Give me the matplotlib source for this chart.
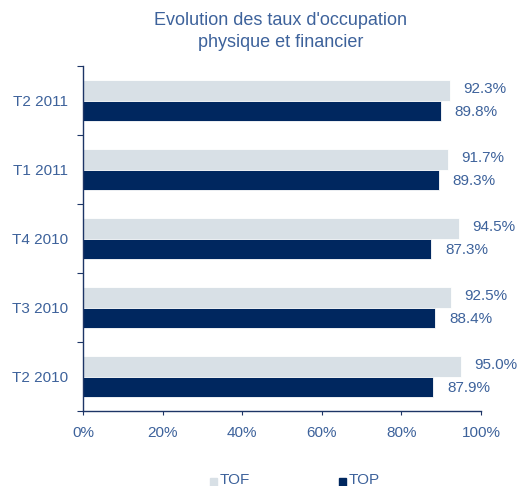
import numpy as np
import matplotlib.pyplot as plt
from matplotlib.ticker import FixedLocator

plt.rcParams['font.family'] = ['Liberation Sans', 'DejaVu Sans']

# data (bottom to top)
periods = ['T2 2010', 'T3 2010', 'T4 2010', 'T1 2011', 'T2 2011']
tof = [95.0, 92.5, 94.5, 91.7, 92.3]
top = [87.9, 88.4, 87.3, 89.3, 89.8]
xticks = [0, 20, 40, 60, 80, 100]

c_tof = '#d8e0e6'
c_top = '#00275f'
c_txt = '#3d629b'
c_axis = '#1d3566'

fig = plt.figure(figsize=(5.19, 4.86), dpi=100)
ax = fig.add_axes([0.160, 0.154, 0.767, 0.710])

y = np.arange(len(periods))
h = 0.30
ax.barh(y + h / 2, tof, height=h, color=c_tof, edgecolor='white', linewidth=0.6)
ax.barh(y - h / 2, top, height=h, color=c_top, edgecolor='white', linewidth=0.6)

for yi, v in zip(y, tof):
    ax.text(v + 3.2, yi + h / 2 + 0.02, f'{v:.1f}%', va='center', ha='left',
            fontsize=11, color=c_txt)
for yi, v in zip(y, top):
    ax.text(v + 3.6, yi - h / 2 - 0.02, f'{v:.1f}%', va='center', ha='left',
            fontsize=11, color=c_txt)

ax.set_xlim(0, 100)
ax.set_ylim(-0.5, len(periods) - 0.5)
ax.set_xticks(xticks)
ax.set_xticklabels([f'{t}%' for t in xticks])
ax.set_yticks(y)
ax.set_yticklabels(periods)
ax.yaxis.set_minor_locator(FixedLocator(np.arange(-0.5, len(periods), 1)))

ax.tick_params(axis='y', which='major', length=0, pad=11, labelsize=11, labelcolor=c_txt)
ax.tick_params(axis='y', which='minor', length=4, width=0.8, color=c_axis, direction='out')
ax.tick_params(axis='x', length=3, width=0.8, color=c_axis, direction='out', pad=8,
               labelsize=11, labelcolor=c_txt)

for s in ['top', 'right']:
    ax.spines[s].set_visible(False)
for s in ['left', 'bottom']:
    ax.spines[s].set_color(c_axis)
    ax.spines[s].set_linewidth(1.0)

fig.text(0.54, 0.935, "Evolution des taux d'occupation\nphysique et financier",
         ha='center', va='center', fontsize=13, color=c_txt, linespacing=1.35)

# legend
fig.patches.append(plt.Rectangle((0.404, 0.0), 0.0135, 0.0165, transform=fig.transFigure,
                                 color=c_tof))
fig.text(0.424, 0.004, 'TOF', fontsize=11, color=c_txt, va='baseline', ha='left')
fig.patches.append(plt.Rectangle((0.653, 0.0), 0.0135, 0.0165, transform=fig.transFigure,
                                 color=c_top))
fig.text(0.672, 0.004, 'TOP', fontsize=11, color=c_txt, va='baseline', ha='left')

fig.savefig('out.png', dpi=100)
